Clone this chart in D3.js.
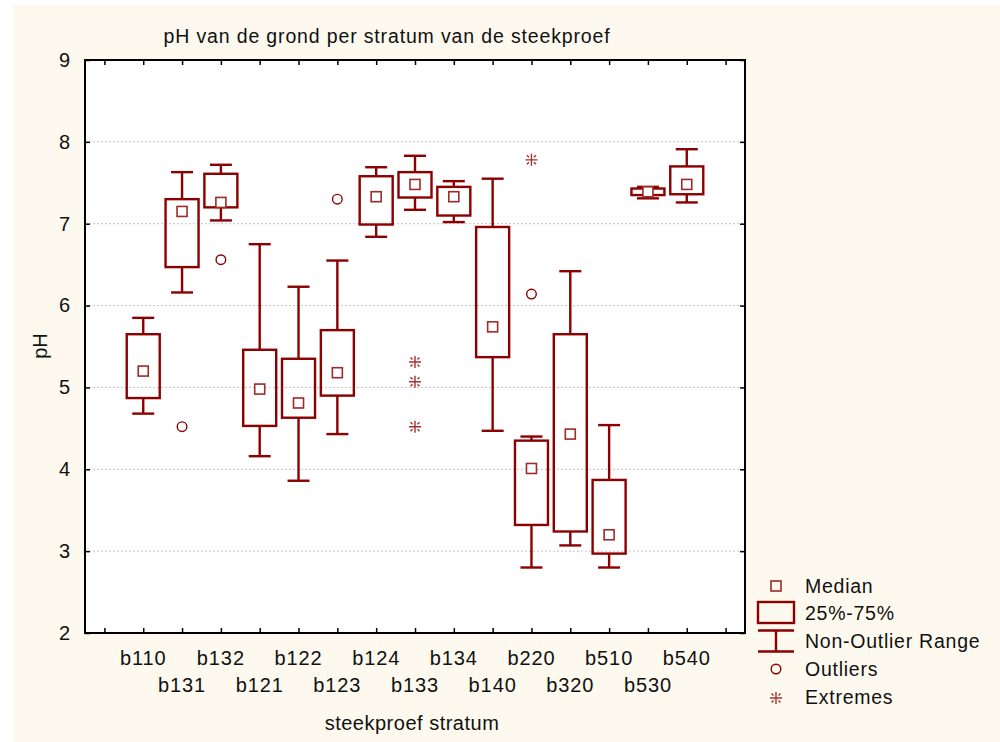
<!DOCTYPE html>
<html>
<head>
<meta charset="utf-8">
<script src="https://cdn.jsdelivr.net/npm/d3@7"></script>
<style>
  body { margin: 0; background: #fff; }
  text { font-family: "Liberation Sans", Arial, sans-serif; fill: #111; }
</style>
</head>
<body>
<script>
// pH per stratum - box plot (median, 25-75%, non-outlier range)

var cats = ["b110", "b131", "b132", "b121", "b122", "b123", "b124", "b133",
            "b134", "b140", "b220", "b320", "b510", "b530", "b540"];
var whiskLo = [4.68, 6.16, 7.04, 4.16, 3.86, 4.43, 6.84, 7.17, 7.02, 4.47, 2.80, 3.07, 2.80, 7.31, 7.26];
var q1      = [4.87, 6.47, 7.20, 4.53, 4.63, 4.90, 6.99, 7.32, 7.10, 5.37, 3.32, 3.24, 2.97, 7.35, 7.36];
var median  = [5.20, 7.15, 7.26, 4.98, 4.81, 5.18, 7.33, 7.48, 7.33, 5.74, 4.01, 4.43, 3.20, 7.39, 7.48];
var q3      = [5.65, 7.30, 7.61, 5.46, 5.35, 5.70, 7.58, 7.63, 7.45, 6.96, 4.35, 5.65, 3.87, 7.43, 7.70];
var whiskHi = [5.85, 7.63, 7.72, 6.75, 6.23, 6.55, 7.69, 7.83, 7.52, 7.55, 4.40, 6.42, 4.54, 7.45, 7.91];

var outliers = [ ["b131", 4.52], ["b132", 6.56], ["b123", 7.30], ["b220", 6.14] ];
var extremes = [ ["b133", 5.31], ["b133", 5.07], ["b133", 4.52], ["b220", 7.78] ];

var yTicks = [2, 3, 4, 5, 6, 7, 8, 9];

var legendItems = ["Median", "25%-75%", "Non-Outlier Range", "Outliers", "Extremes"];

var red = "#8b0000";

var margin = {top: 60, right: 255, bottom: 109, left: 85},
    width = 1000 - margin.left - margin.right,
    height = 742 - margin.top - margin.bottom;

var x = d3.scaleLinear()
    .domain([-1.5, cats.length + 0.5])
    .range([0, width]);

var y = d3.scaleLinear()
    .domain([2, 9])
    .range([height, 0]);

var svg = d3.select('body')
    .append('svg')
    .attr('width', 1000)
    .attr('height', 742);

// cream page background
svg.append('rect')
    .attr('x', 13).attr('y', 5)
    .attr('width', 987).attr('height', 737)
    .attr('fill', '#fdf9ee');

svg.append('text')
    .attr('x', 387)
    .attr('y', 43)
    .attr('text-anchor', 'middle')
    .style('font-size', '19.5px')
    .style('letter-spacing', '0.85px')
    .text('pH van de grond per stratum van de steekproef');

var main = svg.append('g')
    .attr('transform', 'translate(' + margin.left + ',' + margin.top + ')');

main.append('rect')
    .attr('width', width).attr('height', height)
    .attr('fill', '#fff');

// grid
main.append('g')
    .selectAll('line')
    .data(yTicks.slice(1, -1))
    .enter().append('line')
    .attr('x1', 0).attr('x2', width)
    .attr('y1', function(d) { return y(d); })
    .attr('y2', function(d) { return y(d); })
    .attr('stroke', '#c4c4c4')
    .attr('stroke-dasharray', '2,2');

// tick marks on all four sides, pointing inward
var xTickVals = d3.range(-1, cats.length + 1);
main.append('g')
    .attr('transform', 'translate(0,' + height + ')')
    .call(d3.axisBottom(x).tickValues(xTickVals).tickSizeInner(-5).tickSizeOuter(0).tickFormat(''));
main.append('g')
    .call(d3.axisTop(x).tickValues(xTickVals).tickSizeInner(-5).tickSizeOuter(0).tickFormat(''));
main.append('g')
    .call(d3.axisLeft(y).tickValues(yTicks).tickSizeInner(-5).tickSizeOuter(0)
        .tickPadding(15).tickFormat(d3.format('d')))
    .call(function(g) { g.selectAll('text').style('font-size', '20px').attr('fill', '#111'); });
main.append('g')
    .attr('transform', 'translate(' + width + ',0)')
    .call(d3.axisRight(y).tickValues(yTicks).tickSizeInner(-5).tickSizeOuter(0).tickFormat(''));
main.selectAll('.tick line').attr('stroke', '#000').attr('stroke-width', 1.5);
main.selectAll('.domain').remove();

main.append('rect')
    .attr('width', width).attr('height', height)
    .attr('fill', 'none')
    .attr('stroke', '#000')
    .attr('stroke-width', 2);

// category labels in two staggered rows
main.append('g')
    .selectAll('text')
    .data(cats)
    .enter().append('text')
    .attr('x', function(d, i) { return x(i); })
    .attr('y', function(d, i) { return height + (i % 2 === 0 ? 32 : 59); })
    .attr('text-anchor', 'middle')
    .style('font-size', '20px')
    .style('letter-spacing', '0.9px')
    .text(function(d) { return d; });

svg.append('text')
    .attr('x', 412)
    .attr('y', 730)
    .attr('text-anchor', 'middle')
    .style('font-size', '20px')
    .style('letter-spacing', '0.5px')
    .text('steekproef stratum');

svg.append('text')
    .attr('transform', 'translate(47,346) rotate(-90)')
    .attr('text-anchor', 'middle')
    .style('font-size', '20px')
    .text('pH');

// boxes
var boxW = 33, capW = 22;
var boxes = main.append('g').selectAll('g')
    .data(cats)
    .enter().append('g')
    .attr('transform', function(d, i) { return 'translate(' + x(i) + ',0)'; });

boxes.append('line')
    .attr('y1', function(d, i) { return y(whiskHi[i]); })
    .attr('y2', function(d, i) { return y(q3[i]); })
    .attr('stroke', red).attr('stroke-width', 2.4);
boxes.append('line')
    .attr('y1', function(d, i) { return y(q1[i]); })
    .attr('y2', function(d, i) { return y(whiskLo[i]); })
    .attr('stroke', red).attr('stroke-width', 2.4);
boxes.append('line')
    .attr('x1', -capW / 2).attr('x2', capW / 2)
    .attr('y1', function(d, i) { return y(whiskHi[i]); })
    .attr('y2', function(d, i) { return y(whiskHi[i]); })
    .attr('stroke', red).attr('stroke-width', 2.4);
boxes.append('line')
    .attr('x1', -capW / 2).attr('x2', capW / 2)
    .attr('y1', function(d, i) { return y(whiskLo[i]); })
    .attr('y2', function(d, i) { return y(whiskLo[i]); })
    .attr('stroke', red).attr('stroke-width', 2.4);
boxes.append('rect')
    .attr('x', -boxW / 2).attr('width', boxW)
    .attr('y', function(d, i) { return y(q3[i]); })
    .attr('height', function(d, i) { return y(q1[i]) - y(q3[i]); })
    .attr('fill', 'none')
    .attr('stroke', red).attr('stroke-width', 2.4);
boxes.append('rect')
    .attr('x', -5).attr('width', 10)
    .attr('y', function(d, i) { return y(median[i]) - 5; })
    .attr('height', 10)
    .attr('fill', '#fff')
    .attr('stroke', '#9e2a2a').attr('stroke-width', 1.6);

// outliers and extremes
main.append('g').selectAll('circle')
    .data(outliers)
    .enter().append('circle')
    .attr('cx', function(d) { return x(cats.indexOf(d[0])); })
    .attr('cy', function(d) { return y(d[1]); })
    .attr('r', 4.8)
    .attr('fill', 'none')
    .attr('stroke', red).attr('stroke-width', 1.4);

function star(sel) {
    sel.append('path')
        .attr('d', 'M-6,0H6M0,-6V6M-4.5,-4.5L-2.5,-2.5M4.5,-4.5L2.5,-2.5M-4.5,4.5L-2.5,2.5M4.5,4.5L2.5,2.5')
        .attr('stroke', '#a53030').attr('stroke-width', 1.4).attr('fill', 'none');
}
main.append('g').selectAll('g')
    .data(extremes)
    .enter().append('g')
    .attr('transform', function(d) { return 'translate(' + x(cats.indexOf(d[0])) + ',' + y(d[1]) + ')'; })
    .call(star);

// legend
var leg = svg.append('g').attr('transform', 'translate(776,0)');
leg.append('rect').attr('x', -5).attr('y', 581).attr('width', 10).attr('height', 10)
    .attr('fill', 'none').attr('stroke', '#9e2a2a').attr('stroke-width', 1.6);
leg.append('rect').attr('x', -18).attr('y', 602).attr('width', 36).attr('height', 21)
    .attr('fill', 'none').attr('stroke', red).attr('stroke-width', 2.4);
leg.append('path').attr('d', 'M-18,630.5H18M-18,651.5H18M0,630.5V651.5')
    .attr('fill', 'none').attr('stroke', red).attr('stroke-width', 2.4);
leg.append('circle').attr('cx', 0).attr('cy', 669).attr('r', 4.8)
    .attr('fill', 'none').attr('stroke', red).attr('stroke-width', 1.4);
leg.append('g').attr('transform', 'translate(0,698)').call(star);

leg.selectAll('text.item')
    .data(legendItems)
    .enter().append('text')
    .attr('class', 'item')
    .attr('x', 29)
    .attr('y', function(d, i) { return 592.5 + i * 27.9; })
    .style('font-size', '19.5px')
    .style('letter-spacing', '0.75px')
    .text(function(d) { return d; });
</script>
</body>
</html>
